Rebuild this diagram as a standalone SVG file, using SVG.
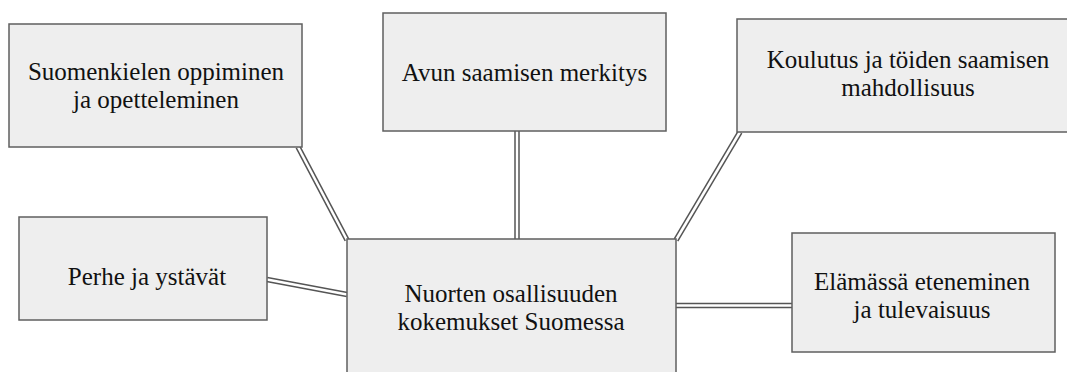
<svg xmlns="http://www.w3.org/2000/svg" width="1067" height="372" viewBox="0 0 1067 372">
<style>
.box{fill:#eeeeee;stroke:#5f5f5f;stroke-width:1.5}
.t{font-family:'Liberation Serif','Times New Roman',serif;font-size:25px;fill:#111;text-anchor:middle}
.c1{stroke:#555;stroke-width:5.5;fill:none}
.c2{stroke:#fff;stroke-width:2.5;fill:none}
</style>
<rect width="1067" height="372" fill="#fff"/>
<g id="connectors">
<line class="c1" x1="298" y1="147" x2="347" y2="240"/>
<line class="c2" x1="298" y1="147" x2="347" y2="240"/>
<line class="c1" x1="517" y1="131" x2="517" y2="242"/>
<line class="c2" x1="517" y1="131" x2="517" y2="242"/>
<line class="c1" x1="740" y1="132" x2="676" y2="240"/>
<line class="c2" x1="740" y1="132" x2="676" y2="240"/>
<line class="c1" x1="267" y1="279.5" x2="347" y2="294.5"/>
<line class="c2" x1="267" y1="279.5" x2="347" y2="294.5"/>
<line class="c1" x1="676" y1="305.5" x2="792" y2="305.5"/>
<line class="c2" x1="676" y1="305.5" x2="792" y2="305.5"/>
</g>
<g id="node-suomenkieli">
<rect class="box" x="9" y="24" width="293" height="123"/>
<text class="t" x="156" y="80">Suomenkielen oppiminen</text>
<text class="t" x="156" y="108">ja opetteleminen</text>
</g>
<g id="node-apu">
<rect class="box" x="383" y="13" width="283" height="118"/>
<text class="t" x="524.5" y="81">Avun saamisen merkitys</text>
</g>
<g id="node-koulutus">
<rect class="box" x="737" y="19" width="342" height="113"/>
<text class="t" x="908" y="68">Koulutus ja töiden saamisen</text>
<text class="t" x="908" y="96">mahdollisuus</text>
</g>
<g id="node-perhe">
<rect class="box" x="19" y="217" width="248" height="103"/>
<text class="t" x="147" y="285">Perhe ja ystävät</text>
</g>
<g id="node-keskus">
<rect class="box" x="347" y="239" width="329" height="150"/>
<text class="t" x="511" y="302">Nuorten osallisuuden</text>
<text class="t" x="511" y="330">kokemukset Suomessa</text>
</g>
<g id="node-elama">
<rect class="box" x="792" y="233" width="263" height="119"/>
<text class="t" x="922" y="290">Elämässä eteneminen</text>
<text class="t" x="922" y="318">ja tulevaisuus</text>
</g>
</svg>
